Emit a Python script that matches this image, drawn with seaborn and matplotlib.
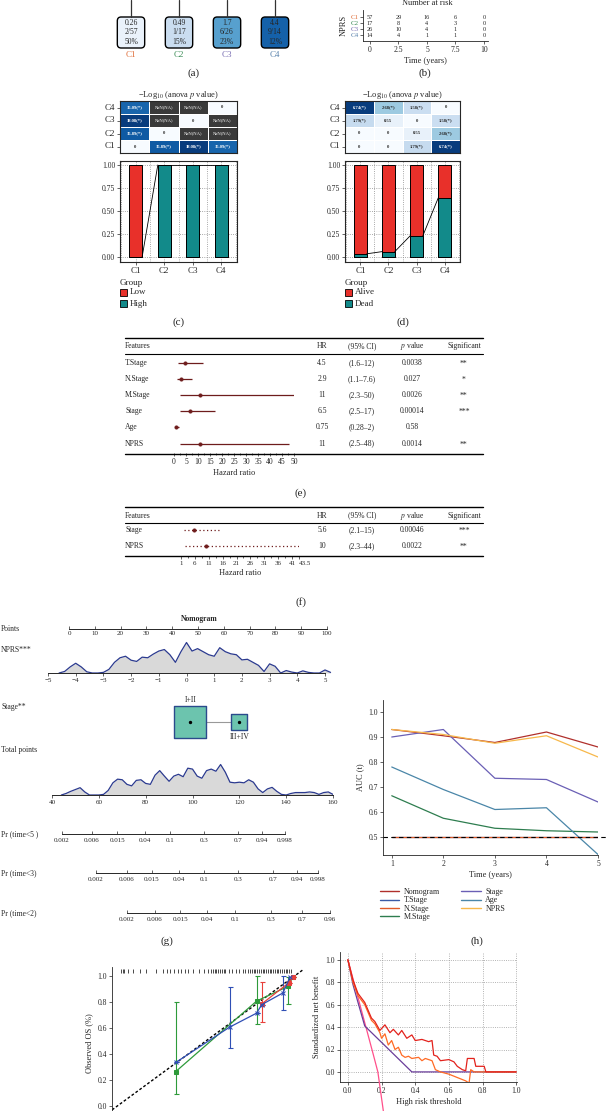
import numpy as np
import pandas as pd
import matplotlib.pyplot as plt
from matplotlib.patches import FancyBboxPatch, Rectangle
from matplotlib.lines import Line2D
import seaborn as sns

# ---------------- data ----------------
clusters = ['C1', 'C2', 'C3', 'C4']
clust_colors = ['#e0703c', '#3f8f5a', '#7a6fb3', '#5b84ad']

# (a) hazard ratio boxes
hr_a = [0.26, 0.49, 1.7, 4.4]
dead_a = [2, 1, 6, 9]
n_a = [57, 17, 26, 14]
pct_a = [50, 15, 23, 12]

# (b) number at risk
risk_times = [0, 2.5, 5, 7.5, 10]
risk_c1 = [57, 29, 16, 6, 0]
risk_c2 = [17, 8, 4, 3, 0]
risk_c3 = [26, 10, 4, 1, 0]
risk_c4 = [14, 4, 1, 1, 0]

# (c)/(d) -log10 anova p heatmaps (rows C4..C1, cols C1..C4)
heat_c = [[15.09, np.nan, np.nan, 0],
          [18.08, np.nan, 0, np.nan],
          [15.89, 0, np.nan, np.nan],
          [0, 15.89, 18.08, 15.09]]
heat_d = [[6.74, 2.68, 1.58, 0],
          [1.79, 0.55, 0, 1.58],
          [0, 0, 0.55, 2.68],
          [0, 0, 1.79, 6.74]]
high_frac_c = [0, 1, 1, 1]

# (e) univariate cox
feat_e = ['T.Stage', 'N.Stage', 'M.Stage', 'Stage', 'Age', 'NPRS']
hr_e = [4.5, 2.9, 11, 6.5, 0.75, 11]
lo_e = [1.6, 1.1, 2.3, 2.5, 0.28, 2.5]
hi_e = [12, 7.6, 50, 17, 2, 48]
ci_e = ['(1.6–12)', '(1.1–7.6)', '(2.3–50)', '(2.5–17)', '(0.28–2)', '(2.5–48)']
p_e = ['0.0038', '0.027', '0.0026', '0.00014', '0.58', '0.0014']
sig_e = ['**', '*', '**', '***', '', '**']

# (f) multivariate cox
feat_f = ['Stage', 'NPRS']
hr_f = [5.6, 10]
lo_f = [2.1, 2.3]
hi_f = [15, 44]
ci_f = ['(2.1–15)', '(2.3–44)']
p_f = ['0.00046', '0.0022']
sig_f = ['***', '**']

# (g) nomogram
nprs_x = [-4.6, -4.4, -4.2, -4.0, -3.8, -3.6, -3.4, -3.2, -3.0, -2.8, -2.6, -2.4, -2.2, -2.0,
          -1.8, -1.6, -1.4, -1.2, -1.0, -0.8, -0.6, -0.4, -0.2, 0.0, 0.2, 0.4, 0.6, 0.8, 1.0,
          1.2, 1.4, 1.6, 1.8, 2.0, 2.2, 2.4, 2.6, 2.8, 3.0, 3.2, 3.4, 3.6, 3.8, 4.0, 4.2, 4.4,
          4.6, 4.8, 5.0, 5.2]
nprs_d = [0.0, 0.05, 0.2, 0.32, 0.2, 0.04, 0.0, 0.0, 0.02, 0.12, 0.35, 0.5, 0.55, 0.42,
          0.38, 0.52, 0.5, 0.62, 0.72, 0.77, 0.6, 0.35, 0.7, 1.0, 0.72, 0.8, 0.7, 0.6, 0.55,
          0.83, 0.7, 0.63, 0.6, 0.43, 0.45, 0.35, 0.25, 0.05, 0.3, 0.22, 0.0, 0.08, 0.03, 0.0,
          0.07, 0.02, 0.0, 0.0, 0.1, 0.02]
stage_levels = ['I+II', 'III+IV']
stage_pts = [47, 66]
tp_x = [44, 46, 48, 50, 52, 54, 56, 58, 60, 62, 64, 66, 68, 70, 72, 74, 76, 78, 80, 82,
        84, 86, 88, 90, 92, 94, 96, 98, 100, 102, 104, 106, 108, 110, 112, 114, 116, 118,
        120, 122, 124, 126, 128, 130, 132, 134, 136, 138, 140, 142, 144, 146, 148, 150,
        152, 154, 156, 158, 160]
tp_d = [0.0, 0.05, 0.12, 0.18, 0.24, 0.1, 0.0, 0.0, 0.0, 0.02, 0.15, 0.4, 0.52, 0.5, 0.35,
        0.3, 0.48, 0.5, 0.38, 0.35, 0.65, 0.8, 0.62, 0.45, 0.62, 0.68, 0.6, 0.88, 0.85, 0.62,
        0.55, 0.8, 0.85, 0.78, 1.0, 0.75, 0.42, 0.4, 0.42, 0.4, 0.5, 0.42, 0.2, 0.08, 0.2,
        0.25, 0.12, 0.02, 0.0, 0.05, 0.08, 0.08, 0.08, 0.1, 0.08, 0.02, 0.08, 0.1, 0.02]
pr_labels = ['0.002', '0.006', '0.015', '0.04', '0.1', '0.3', '0.7', '0.94', '0.998']
pr5_tp = [44.3, 57.1, 67.8, 79.7, 90.4, 104.9, 119.4, 129.7, 139.5]
pr3_tp = [58.8, 72.0, 82.7, 94.2, 104.9, 119.4, 134.4, 144.6, 153.6]
pr2_labels = ['0.002', '0.006', '0.015', '0.04', '0.1', '0.3', '0.7', '0.96']
pr2_tp = [72.0, 84.0, 94.7, 106.2, 118.1, 133.6, 146.7, 158.7]

# (h) time dependent AUC
auc_times = [1, 2, 3, 4, 5]
auc_names = ['Nomogram', 'T.Stage', 'N.Stage', 'M.Stage', 'Stage', 'Age', 'NPRS']
auc_colors = ['#b0302c', '#3b5ba5', '#e05a28', '#2e7d4f', '#6a5fb5', '#4a86a8', '#f7b84b']
auc_nomo = [0.93, 0.905, 0.878, 0.92, 0.86]
auc_t = [0.5, 0.5, 0.5, 0.5, 0.5]
auc_n = [0.5, 0.5, 0.5, 0.5, 0.5]
auc_m = [0.665, 0.575, 0.535, 0.525, 0.52]
auc_stage = [0.90, 0.93, 0.735, 0.73, 0.64]
auc_age = [0.78, 0.69, 0.61, 0.617, 0.43]
auc_nprs = [0.93, 0.91, 0.875, 0.905, 0.82]

# calibration
cal_b_x = [0.34, 0.644, 0.797, 0.825, 0.945, 0.985]
cal_b_y = [0.335, 0.607, 0.715, 0.78, 0.87, 0.99]
cal_b_lo = [0.335, 0.445, 0.715, 0.78, 0.74, 0.99]
cal_b_hi = [0.335, 0.915, 0.715, 0.78, 1.0, 0.99]
cal_r_x = [0.825, 0.98, 1.0]
cal_r_y = [0.785, 0.95, 0.99]
cal_r_lo = [0.645, 0.95, 0.99]
cal_r_hi = [0.955, 0.95, 0.99]
cal_g_x = [0.34, 0.797, 0.973, 1.0]
cal_g_y = [0.265, 0.808, 0.92, 0.99]
cal_g_lo = [0.09, 0.63, 0.785, 0.99]
cal_g_hi = [0.80, 1.0, 0.99, 0.99]
rug_x = [0.03, 0.04, 0.05, 0.07, 0.10, 0.14, 0.17, 0.23, 0.27, 0.29, 0.31, 0.33, 0.35, 0.37,
         0.39, 0.41, 0.44, 0.47, 0.50, 0.52, 0.54, 0.55, 0.56, 0.57, 0.58, 0.59, 0.60, 0.61,
         0.62, 0.64, 0.66, 0.68, 0.70, 0.72, 0.73, 0.75, 0.76, 0.77, 0.78, 0.79, 0.80, 0.81,
         0.82, 0.83, 0.84, 0.85, 0.86, 0.87, 0.88, 0.89, 0.90, 0.91, 0.92, 0.93, 0.94, 0.95,
         0.96, 0.97, 0.98, 0.99]

# decision curve
dca_all_x = [0, 0.05, 0.10, 0.15, 0.178, 0.207, 0.22]
dca_all_y = [1.0, 0.72, 0.44, 0.16, 0.0, -0.31, -0.45]
dca_stage_x = [0, 0.03, 0.06, 0.10, 0.38, 1.0]
dca_stage_y = [1.0, 0.78, 0.62, 0.41, 0.0, 0.0]
dca_nomo_x = [0, 0.03, 0.06, 0.08, 0.10, 0.12, 0.14, 0.16, 0.19, 0.22, 0.25, 0.27, 0.30, 0.32,
              0.35, 0.38, 0.40, 0.44, 0.48, 0.50, 0.51, 0.53, 0.55, 0.60, 0.63, 0.65, 0.68,
              0.70, 0.71, 0.75, 0.76, 0.81, 0.82, 1.0]
dca_nomo_y = [1.0, 0.82, 0.70, 0.66, 0.62, 0.55, 0.48, 0.45, 0.37, 0.42, 0.35, 0.38, 0.33,
              0.37, 0.30, 0.33, 0.28, 0.29, 0.27, 0.28, 0.15, 0.14, 0.10, 0.11, 0.09, 0.05,
              0.02, 0.01, 0.12, 0.12, 0.05, 0.05, 0.0, 0.0]
dca_nprs_x = [0, 0.03, 0.06, 0.08, 0.10, 0.12, 0.14, 0.16, 0.19, 0.20, 0.22, 0.24, 0.26, 0.28,
              0.30, 0.32, 0.34, 0.36, 0.38, 0.42, 0.44, 0.46, 0.50, 0.52, 0.55, 0.60, 0.65,
              0.70, 0.72, 0.73, 0.75, 1.0]
dca_nprs_y = [1.0, 0.80, 0.68, 0.64, 0.60, 0.53, 0.46, 0.43, 0.35, 0.30, 0.34, 0.24, 0.28,
              0.20, 0.22, 0.15, 0.13, 0.14, 0.12, 0.13, 0.10, 0.12, 0.10, 0.02, 0.0, -0.02,
              -0.05, -0.08, -0.10, 0.02, 0.0, 0.0]

# ---------------- figure ----------------
sns.set_theme(style='ticks')
plt.rcParams['font.family'] = ['Liberation Serif', 'DejaVu Serif']
plt.rcParams['mathtext.fontset'] = 'stix'
plt.rcParams['axes.linewidth'] = 0.6

W, H = 607, 1111
fig = plt.figure(figsize=(W / 100, H / 100), dpi=100)


def pax(x0, y0, x1, y1):
    return fig.add_axes([x0 / W, 1 - y1 / H, (x1 - x0) / W, (y1 - y0) / H])


def small_ticks(ax, size=5.5):
    ax.tick_params(labelsize=size, length=2, width=0.5, pad=1.5)


ov_items = []  # figure-level labels, drawn on a pixel overlay at the end

# (a) ---------------------------------------------------------------
u = 48.0
ax_a = pax(107, 0, 299, 60)
ax_a.set_xlim(-0.5, 3.5)
ax_a.set_ylim(60 / u, 0)
ax_a.axis('off')
blues = sns.color_palette('Blues', as_cmap=True)
for i, c in enumerate(clusters):
    col = blues((np.log(hr_a[i]) + 1.6) / 3.8)
    ax_a.plot([i, i], [0, 17 / u], color='#333333', lw=0.9)
    ax_a.add_patch(FancyBboxPatch((i - 0.285, 17 / u), 0.57, 31 / u,
                                  boxstyle='round,pad=0,rounding_size=0.08',
                                  fc=col, ec='black', lw=1.0))
    ax_a.text(i, 32.5 / u, f'{hr_a[i]}\n{dead_a[i]}/{n_a[i]}\n{pct_a[i]}%', ha='center',
              va='center', fontsize=5.5, linespacing=1.3)
    ax_a.text(i, 55 / u, c, ha='center', va='center', fontsize=6.5, color=clust_colors[i])

# (b) ---------------------------------------------------------------
ax_r = pax(363, 10, 488, 41)
ax_r.set_xlim(-0.61, 10.35)
ax_r.set_ylim(4.0, -1.2)
for j, row in enumerate([risk_c1, risk_c2, risk_c3, risk_c4]):
    for t, n in zip(risk_times, row):
        ax_r.text(t, j, str(n), ha='center', va='center', fontsize=4.5)
ax_r.set_yticks(range(4))
ax_r.set_yticklabels(clusters)
for lab, c in zip(ax_r.get_yticklabels(), clust_colors):
    lab.set_color(c)
ax_r.set_xticks(risk_times)
ax_r.set_xticklabels(['0', '2.5', '5', '7.5', '10'])
small_ticks(ax_r)
ax_r.tick_params(axis='y', labelsize=5, pad=1)
ax_r.set_xlabel('Time (years)', fontsize=6, labelpad=2)
ax_r.set_ylabel('NPRS', fontsize=6, labelpad=2)
sns.despine(ax=ax_r)
ov_items.append((427, 3, 'Number at risk', dict(ha='center', va='center', fontsize=6)))


# (c) / (d) -----------------------------------------------------------
def heat_label(v):
    if np.isnan(v):
        return ''
    if v == 0:
        return '0'
    return f'{v:.2f}(*)' if v > -np.log10(0.05) else f'{v:.2f}'


def comp_panel(x0, x1, heat, frac_bottom, names, label):
    vals = np.array(heat, dtype=float)
    ah = pax(x0, 101, x1, 153)
    ann = np.array([[heat_label(v) for v in row] for row in vals])
    df_h = pd.DataFrame(vals, index=clusters[::-1], columns=clusters)
    sns.heatmap(df_h, ax=ah, cmap='Blues', vmin=0, vmax=np.nanmax(vals) * 1.05, annot=ann,
                fmt='', cbar=False, linewidths=0.7, linecolor='white',
                annot_kws={'fontsize': 3.3, 'fontweight': 'bold'})
    ah.set_facecolor('#3a3a3a')
    for k in range(1, 4):
        ah.axhline(k, color='white', lw=0.7)
        ah.axvline(k, color='white', lw=0.7)
    for i in range(4):
        for j in range(4):
            if np.isnan(vals[i, j]):
                ah.text(j + 0.5, i + 0.5, 'NaN(NA)', ha='center', va='center',
                        fontsize=3.3, color='white')
    ah.set_xticks([])
    ah.set_yticks(np.arange(4) + 0.5)
    ah.set_yticklabels(clusters[::-1], rotation=0)
    ah.tick_params(axis='y', labelsize=6.5, length=2, width=0.5, pad=1.5, left=True)
    for s in ah.spines.values():
        s.set_visible(True)
        s.set_linewidth(0.8)
    ah.set_title('−Log$_{10}$ (anova $p$ value)', fontsize=6, pad=2)

    ab = pax(x0, 161, x1, 262)
    df_b = pd.DataFrame({'cluster': clusters, 'total': 1.0, 'bottom': frac_bottom})
    yt = [0, 0.25, 0.5, 0.75, 1.0]
    for y in yt:
        ab.axhline(y, ls=':', color='#8c8c8c', lw=0.6, zorder=0)
    for xv in [-0.5, 0, 0.5, 1, 1.5, 2, 2.5, 3, 3.5]:
        ab.axvline(xv, ls=':', color='#8c8c8c', lw=0.6, zorder=0)
    sns.barplot(data=df_b, x='cluster', y='total', color='#e8302a', saturation=1,
                edgecolor='black', linewidth=0.7, width=0.45, ax=ab, zorder=2)
    sns.barplot(data=df_b, x='cluster', y='bottom', color='#128a8a', saturation=1,
                edgecolor='black', linewidth=0.7, width=0.45, ax=ab, zorder=3)
    w = 0.45
    for i in range(3):
        ab.plot([i + w / 2, i + 1 - w / 2], [frac_bottom[i], frac_bottom[i + 1]],
                color='black', lw=0.6, zorder=4)
    ab.set_xlim(-0.55, 3.55)
    ab.set_ylim(-0.054, 1.043)
    ab.set_yticks(yt)
    ab.set_yticklabels(['0.00', '0.25', '0.50', '0.75', '1.00'])
    ab.set_xlabel('')
    ab.set_ylabel('')
    small_ticks(ab)
    ab.tick_params(axis='x', labelsize=6.5)
    for s in ab.spines.values():
        s.set_visible(True)
        s.set_linewidth(0.8)

    ov_items.append((x0, 283, 'Group', dict(ha='left', va='center', fontsize=6.5)))
    ov_items.append(('rect', x0, 289, '#e8302a'))
    ov_items.append(('rect', x0, 300, '#128a8a'))
    ov_items.append((x0 + 10, 292.5, names[0], dict(ha='left', va='center', fontsize=6.5)))
    ov_items.append((x0 + 10, 303.5, names[1], dict(ha='left', va='center', fontsize=6.5)))
    ov_items.append(((x0 + x1) / 2, 322, label, dict(ha='center', va='center', fontsize=8)))


comp_panel(120, 237, heat_c, high_frac_c, ['Low', 'High'], '(c)')
comp_panel(345, 460, heat_d, [d / n for d, n in zip(dead_a, n_a)], ['Alive', 'Dead'], '(d)')

# (e) / (f) forest tables --------------------------------------------
col_x = {'feat': 125, 'hr': 322, 'ci': 362, 'p': 412, 'sig': 464}
maroon = '#6e1c1c'


def forest(top, row0, step, feats, hr, lo, hi, ci, pv, sig, ax_x0, ax_x1, xlim, dotted,
           ticks, ticklabels, minor, tick_fs, label, label_y):
    nrow = len(feats)
    bottom = row0 + step * (nrow - 1) + 10
    ov_items.append(('hline', top, 1.0))
    ov_items.append(('hline', top + 16, 0.8))
    ov_items.append(('hline', bottom, 1.0))
    hy = top + 8.5
    txt = dict(va='center', fontsize=5.5)
    ov_items.append((col_x['feat'], hy, 'Features', dict(ha='left', **txt)))
    ov_items.append((col_x['hr'], hy, 'HR', dict(ha='center', **txt)))
    ov_items.append((col_x['ci'], hy, '(95% CI)', dict(ha='center', **txt)))
    ov_items.append((col_x['p'], hy, '$p$ value', dict(ha='center', **txt)))
    ov_items.append((col_x['sig'], hy, 'Significant', dict(ha='center', **txt)))
    rows = [row0 + step * i for i in range(nrow)]
    for i in range(nrow):
        ov_items.append((col_x['feat'], rows[i], feats[i], dict(ha='left', **txt)))
        ov_items.append((col_x['hr'], rows[i], f'{hr[i]:g}', dict(ha='center', **txt)))
        ov_items.append((col_x['ci'], rows[i], ci[i], dict(ha='center', **txt)))
        ov_items.append((col_x['p'], rows[i], pv[i], dict(ha='center', **txt)))
        ov_items.append((col_x['sig'], rows[i] + 1, sig[i], dict(ha='center', **txt)))
    af = pax(ax_x0, top, ax_x1, bottom)
    af.set_xlim(*xlim)
    af.set_ylim(bottom, top)
    if dotted:
        af.hlines(rows, lo, hi, color=maroon, lw=0.9, linestyles=(0, (1, 2)))
    else:
        af.hlines(rows, lo, hi, color=maroon, lw=0.9)
    sns.scatterplot(x=hr, y=rows, ax=af, color=maroon, s=7, edgecolor=maroon, zorder=3)
    af.set_xticks(ticks)
    af.set_xticklabels(ticklabels)
    af.set_xticks(minor, minor=True)
    af.set_yticks([])
    small_ticks(af, tick_fs)
    af.tick_params(axis='x', which='minor', length=1.5, width=0.5)
    for s in ['left', 'right', 'top', 'bottom']:
        af.spines[s].set_visible(False)
    af.set_xlabel('Hazard ratio', fontsize=6, labelpad=2)
    af.patch.set_alpha(0)
    ov_items.append((301, label_y, label, dict(ha='center', va='center', fontsize=8)))
    return af


forest(338, 363, 16.1, feat_e, hr_e, lo_e, hi_e, ci_e, p_e, sig_e, 174, 294, (0, 50), False,
       list(range(0, 51, 5)), [str(v) for v in range(0, 51, 5)],
       [v + 2.5 for v in range(0, 50, 5)], 5.5, '(e)', 493)
af_f = forest(507, 530, 16, feat_f, hr_f, lo_f, hi_f, ci_f, p_f, sig_f, 181, 299, (1, 43.5),
              True, [1, 6, 11, 16, 21, 26, 31, 36, 41, 43.5],
              ['1', '6', '11', '16', '21', '26', '31', '36', '41', '43.5'],
              [3.5, 8.5, 13.5, 18.5, 23.5, 28.5, 33.5, 38.5], 5, '(f)', 602)
af_f.get_xticklabels()[-1].set_horizontalalignment('left')

# (g) nomogram ---------------------------------------------------------
navy = '#2b3a8f'


def nomo_axis(ax, xl):
    ax.set_xlim(*xl)
    ax.set_yticks([])
    for s in ['left', 'right', 'top']:
        ax.spines[s].set_visible(False)
    ax.spines['bottom'].set_linewidth(0.7)
    ax.patch.set_alpha(0)
    ax.tick_params(axis='x', labelsize=5, length=2, width=0.5, pad=1.5)


ax_pt = pax(69, 619, 327, 629)
nomo_axis(ax_pt, (0, 100))
ax_pt.set_xticks(range(0, 101, 10))
ax_pt.tick_params(axis='x', direction='in')

ax_np = pax(48, 641, 325, 673)
nomo_axis(ax_np, (-5, 5))
ax_np.set_ylim(0, 1.05)
ax_np.fill_between(nprs_x, nprs_d, color='#d9d9d9', clip_on=False, lw=0)
ax_np.plot(nprs_x, nprs_d, color=navy, lw=0.9, clip_on=False)
ax_np.set_xticks(range(-5, 6))

ax_st = pax(69, 695, 327, 745)
ax_st.set_xlim(0, 100)
ax_st.set_ylim(50, 0)
ax_st.axis('off')
ax_st.plot(stage_pts, [27, 27], color='#999999', lw=0.8, zorder=1)
ax_st.scatter(stage_pts, [27, 27], s=[520, 130], marker='s', fc='#6cc4ae', ec='#2b4a8c',
              lw=1.0, zorder=2)
ax_st.scatter(stage_pts, [27, 27], s=2, color='black', zorder=3)
ax_st.text(stage_pts[0], 5, stage_levels[0], ha='center', va='center', fontsize=5.5)
ax_st.text(stage_pts[1], 42, stage_levels[1], ha='center', va='center', fontsize=5.5)

ax_tp = pax(52, 763, 333, 795)
nomo_axis(ax_tp, (40, 160))
ax_tp.set_ylim(0, 1.05)
ax_tp.fill_between(tp_x, tp_d, color='#d9d9d9', lw=0)
ax_tp.plot(tp_x, tp_d, color=navy, lw=0.9)
ax_tp.set_xticks(range(40, 161, 20))

for yline, tps, labs in [(834, pr5_tp, pr_labels), (873, pr3_tp, pr_labels),
                         (913, pr2_tp, pr2_labels)]:
    ax_pr = pax(52, yline - 10, 333, yline)
    nomo_axis(ax_pr, (40, 160))
    ax_pr.spines['bottom'].set_bounds(tps[0], tps[-1])
    ax_pr.set_xticks(tps)
    ax_pr.set_xticklabels(labs)
    ax_pr.tick_params(axis='x', direction='in', pad=3)

ov_items.append((199, 619, 'Nomogram', dict(ha='center', va='center', fontsize=5.5, fontweight='bold')))
for yy, txt in [(629, 'Points'), (650, 'NPRS***'), (707, 'Stage**'), (750, 'Total points'),
                (834, 'Pr (time<5 )'), (873, 'Pr (time<3)'), (913, 'Pr (time<2)')]:
    ov_items.append((1, yy, txt, dict(ha='left', va='center', fontsize=5.5)))
ov_items.append((167, 941, '(g)', dict(ha='center', va='center', fontsize=8)))

# (h) AUC ------------------------------------------------------------
ah_ = pax(383, 700, 598, 855)
auc_df = pd.DataFrame({
    'time': auc_times * 7,
    'auc': auc_nomo + auc_t + auc_n + auc_m + auc_stage + auc_age + auc_nprs,
    'model': [m for m in auc_names for _ in auc_times]})
sns.lineplot(data=auc_df, x='time', y='auc', hue='model', hue_order=auc_names,
             palette=auc_colors, lw=0.9, ax=ah_, legend=False, zorder=2)
ah_.plot([0.83, 5.18], [0.5, 0.5], color='black', ls=(0, (4, 3)), lw=0.8, clip_on=False, zorder=3)
ah_.set_xlim(0.83, 5.0)
ah_.set_ylim(0.428, 1.048)
ah_.set_xticks(auc_times)
ah_.set_yticks([0.5, 0.6, 0.7, 0.8, 0.9, 1.0])
ah_.set_yticklabels(['0.5', '0.6', '0.7', '0.8', '0.9', '1.0'])
small_ticks(ah_)
ah_.set_xlabel('Time (years)', fontsize=6, labelpad=2)
ah_.set_ylabel('AUC (t)', fontsize=6, labelpad=3)
sns.despine(ax=ah_)
handles = [Line2D([0], [0], color=c, lw=1.0) for c in auc_colors]
fig.legend(handles, auc_names, loc='upper left', bbox_to_anchor=(380 / W, 1 - 888 / H),
           ncol=2, frameon=False, fontsize=5.8, handlelength=2.4, handletextpad=0.6,
           labelspacing=0.05, columnspacing=2.6, borderpad=0, borderaxespad=0)
ov_items.append((477, 941, '(h)', dict(ha='center', va='center', fontsize=8)))

# calibration ----------------------------------------------------------
ac = pax(112, 967, 305, 1119)
ac.set_xlim(-0.02, 1.07)
ac.set_ylim(-0.1, 1.07)
ac.plot([-0.02, 1.06], [-0.03, 1.05], color='black', ls=(0, (2, 1.5)), lw=1.0, zorder=1)
ac.vlines(rug_x, 1.025, 1.055, color='black', lw=0.5)
for xs, ys, lo, hi, c, mk in [(cal_g_x, cal_g_y, cal_g_lo, cal_g_hi, '#2e9a3a', 's'),
                              (cal_r_x, cal_r_y, cal_r_lo, cal_r_hi, '#e8403a', 's'),
                              (cal_b_x, cal_b_y, cal_b_lo, cal_b_hi, '#2f4fb5', 'x')]:
    ys_a = np.array(ys)
    ac.errorbar(xs, ys, yerr=[ys_a - np.array(lo), np.array(hi) - ys_a], fmt='none',
                ecolor=c, capsize=1.8, lw=0.8, capthick=0.8, zorder=2)
    sns.lineplot(x=xs, y=ys, ax=ac, color=c, lw=0.9, marker=mk, markersize=2.5,
                 markeredgecolor=c, estimator=None, zorder=3)
ac.set_yticks([0, 0.2, 0.4, 0.6, 0.8, 1.0])
ac.set_yticklabels(['0.0', '0.2', '0.4', '0.6', '0.8', '1.0'])
ac.set_xticks([])
small_ticks(ac)
ac.set_ylabel('Observed OS (%)', fontsize=6, labelpad=3)
for s in ['right', 'top', 'bottom']:
    ac.spines[s].set_visible(False)

# decision curve --------------------------------------------------------
ad = pax(340, 952, 517, 1082)
ad.set_xlim(-0.047, 1.005)
ad.set_ylim(-0.09, 1.07)
ticks02 = [0, 0.2, 0.4, 0.6, 0.8, 1.0]
ad.set_xticks(ticks02)
ad.set_yticks(ticks02)
ad.set_xticklabels(['0.0', '0.2', '0.4', '0.6', '0.8', '1.0'])
ad.set_yticklabels(['0.0', '0.2', '0.4', '0.6', '0.8', '1.0'])
ad.grid(True, ls=':', color='#9a9a9a', lw=0.6)
ad.plot(dca_all_x, dca_all_y, color='#ff4f8a', lw=0.9, clip_on=False, zorder=3)
ad.plot(dca_stage_x, dca_stage_y, color='#6a3d9a', lw=0.9, zorder=3)
ad.plot(dca_nprs_x, dca_nprs_y, color='#ff6a24', lw=0.9, zorder=4)
ad.plot(dca_nomo_x, dca_nomo_y, color='#e3221c', lw=0.9, zorder=5)
small_ticks(ad)
ad.set_xlabel('High risk threshold', fontsize=6, labelpad=2)
ad.set_ylabel('Standardized net benefit', fontsize=6, labelpad=3)
sns.despine(ax=ad)

# overlay texts -------------------------------------------------------
ov = fig.add_axes([0, 0, 1, 1])
ov.set_xlim(0, W)
ov.set_ylim(H, 0)
ov.axis('off')
ov.patch.set_alpha(0)
ov.text(194, 73, '(a)', ha='center', va='center', fontsize=8)
ov.text(425, 73, '(b)', ha='center', va='center', fontsize=8)
for item in ov_items:
    if item[0] == 'rect':
        ov.add_patch(Rectangle((item[1], item[2]), 7, 7, fc=item[3], ec='black', lw=0.6))
    elif item[0] == 'hline':
        ov.plot([125, 483], [item[1], item[1]], color='black', lw=item[2])
    else:
        x, y, txt, kw = item
        ov.text(x, y, txt, **kw)

fig.savefig('out.png', dpi=100)
